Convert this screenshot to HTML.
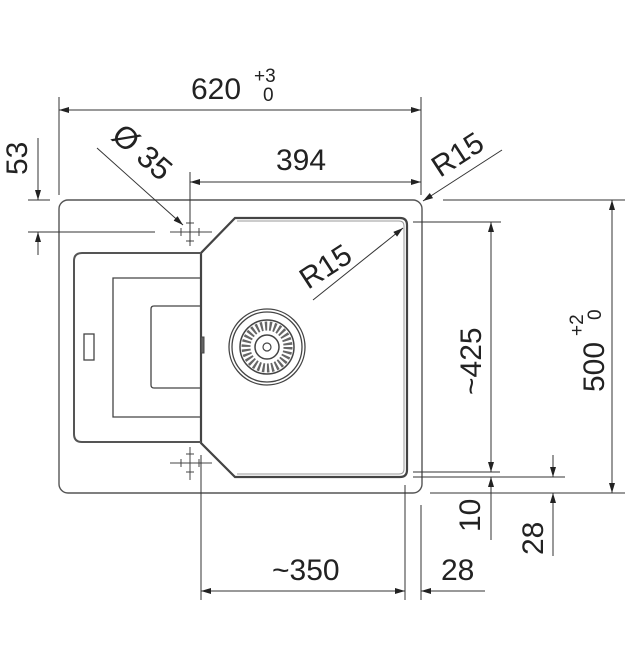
<!DOCTYPE html>
<html><head><meta charset="utf-8"><style>
html,body{margin:0;padding:0;background:#fff;}
svg{display:block;}
text{font-family:"Liberation Sans",sans-serif;fill:#222;}
</style></head><body>
<svg width="625" height="670" viewBox="0 0 625 670" xmlns="http://www.w3.org/2000/svg">
<defs>
<marker id="a" viewBox="0 0 10 6" refX="10" refY="3" markerWidth="14" markerHeight="6" markerUnits="userSpaceOnUse" orient="auto-start-reverse">
<path d="M0,0 L10,3 L0,6 z" fill="#222"/></marker>
</defs>
<g stroke="#333" stroke-width="1" fill="none">
<rect x="59" y="200" width="363" height="293" rx="9" stroke="#555" stroke-width="1.4"/>
<path d="M235,218 L400,218 Q407,218 407,225 L407,470 Q407,477 400,477 L235,477 L201,443 L201,253 Z" stroke="#444" stroke-width="2.2"/>
<path d="M237,221 L399,221 Q404,221 404,226 L404,469 Q404,474 399,474 L237,474" stroke="#999" stroke-width="1"/>
<path d="M201,253 L82,253 Q74,253 74,261 L74,434 Q74,442 82,442 L201,442" stroke="#555" stroke-width="2"/>
<path d="M201,278 L113,278 L113,417 L201,417" stroke="#444" stroke-width="1.3"/>
<path d="M201,306 L154,306 Q151,306 151,309 L151,385 Q151,388 154,388 L201,388" stroke="#444" stroke-width="1.3"/>
<rect x="84" y="334" width="10" height="26" stroke="#444" stroke-width="1.3"/>
<rect x="201" y="337" width="3" height="16" fill="#666" stroke="#444"/>
<circle cx="267" cy="347" r="38" stroke="#444" stroke-width="1.3"/>
<circle cx="267" cy="347" r="35" stroke="#444" stroke-width="1.3"/>
<circle cx="267" cy="347" r="27" stroke="#444" stroke-width="1.5"/>
<circle cx="267" cy="347" r="21" stroke="#666" stroke-width="9" stroke-dasharray="2.2 2.2"/>
<circle cx="267" cy="347" r="12" stroke="#444" stroke-width="1.5"/>
<circle cx="267" cy="347" r="4" stroke="#444" stroke-width="1.2"/>
<path d="M170,232 L212,232 M190,214 L190,246 M181,228 L181,236 M199,228 L199,236 M186,223 L194,223 M186,241 L194,241" stroke="#444"/>
<path d="M170,463 L212,463 M190,447 L190,480 M181,459 L181,467 M199,459 L199,467 M186,454 L194,454 M186,472 L194,472" stroke="#444"/>
<line x1="59" y1="97" x2="59" y2="195"/>
<line x1="421" y1="97" x2="421" y2="195"/>
<line x1="59" y1="110" x2="421" y2="110" marker-start="url(#a)" marker-end="url(#a)"/>
<line x1="190" y1="172" x2="190" y2="242"/>
<line x1="190" y1="182" x2="421" y2="182" marker-start="url(#a)" marker-end="url(#a)"/>
<line x1="28" y1="200" x2="50" y2="200"/>
<line x1="28" y1="232" x2="155" y2="232"/>
<line x1="38" y1="138" x2="38" y2="200" marker-end="url(#a)"/>
<line x1="38" y1="255" x2="38" y2="232" marker-end="url(#a)"/>
<line x1="97" y1="148" x2="183" y2="225" marker-end="url(#a)"/>
<line x1="502" y1="150" x2="423" y2="201" marker-end="url(#a)"/>
<line x1="313" y1="300" x2="403" y2="228" marker-end="url(#a)"/>
<line x1="413" y1="222" x2="501" y2="222"/>
<line x1="413" y1="472" x2="500" y2="472"/>
<line x1="413" y1="477" x2="565" y2="477"/>
<line x1="491" y1="222" x2="491" y2="472" marker-start="url(#a)" marker-end="url(#a)"/>
<line x1="443" y1="200" x2="625" y2="200"/>
<line x1="430" y1="493" x2="625" y2="493"/>
<line x1="612" y1="200" x2="612" y2="493" marker-start="url(#a)" marker-end="url(#a)"/>
<line x1="491" y1="540" x2="491" y2="477" marker-end="url(#a)"/>
<line x1="553" y1="455" x2="553" y2="477" marker-end="url(#a)"/>
<line x1="553" y1="556" x2="553" y2="493" marker-end="url(#a)"/>
<line x1="201" y1="455" x2="201" y2="600"/>
<line x1="405" y1="485" x2="405" y2="600"/>
<line x1="421" y1="505" x2="421" y2="600"/>
<line x1="201" y1="591" x2="405" y2="591" marker-start="url(#a)" marker-end="url(#a)"/>
<line x1="485" y1="591" x2="421" y2="591" marker-end="url(#a)"/>
</g>
<g font-size="30">
<text x="191" y="99">620</text>
<text x="254" y="82" font-size="19">+3</text>
<text x="263" y="101" font-size="19">0</text>
<text x="276" y="170">394</text>
<text x="272" y="580">~350</text>
<text x="441" y="580">28</text>
<text transform="translate(27,175) rotate(-90)">53</text>
<text transform="translate(110,138) rotate(41)" font-size="31">Ø 35</text>
<text transform="translate(440,178) rotate(-33)">R15</text>
<text transform="translate(308,290) rotate(-33)">R15</text>
<text transform="translate(481,395) rotate(-90)">~425</text>
<text transform="translate(604,392) rotate(-90)">500</text>
<text transform="translate(583,336) rotate(-90)" font-size="19">+2</text>
<text transform="translate(601,320) rotate(-90)" font-size="19">0</text>
<text transform="translate(480,532) rotate(-90)">10</text>
<text transform="translate(543,555) rotate(-90)">28</text>
</g>
</svg>
</body></html>
